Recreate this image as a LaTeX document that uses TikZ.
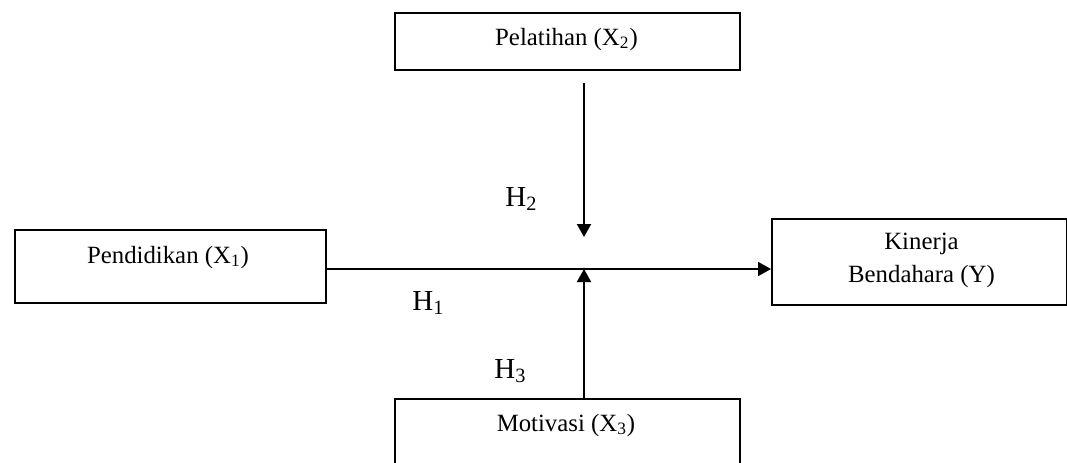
\documentclass[tikz,border=0pt]{standalone}
\usepackage{fontspec}
\setmainfont{Liberation Serif}
\usetikzlibrary{arrows.meta}
\begin{document}
\begin{tikzpicture}[x=0.5pt,y=-0.5pt,
  box/.style={draw,line width=1pt,inner sep=0pt,anchor=north west},
  lbl/.style={font=\fontsize{12.4}{15}\selectfont,inner sep=0pt,anchor=base},
  hlbl/.style={font=\fontsize{14.5}{17}\selectfont,inner sep=0pt,anchor=base west},
  arr/.style={line width=1pt,-{Triangle[length=6.5pt,width=7pt]}}]
\useasboundingbox (0,0) rectangle (1067,462);
\clip (0,0) rectangle (1067,462);
% boxes
\node[box,minimum width=172.5pt,minimum height=28.5pt] (x2) at (394,12) {};
\node[box,minimum width=155.5pt,minimum height=36.5pt] (x1) at (14,229) {};
\node[box,minimum width=147.5pt,minimum height=43pt] (y) at (771,218) {};
\node[box,minimum width=172.5pt,minimum height=60pt] (x3) at (394,398) {};
% texts
\node[lbl] (x2t) at (566.5,45) {Pelatihan (X\textsubscript{2})};
\node[lbl] (x1t) at (168,263) {Pendidikan (X\textsubscript{1})};
\node[lbl] (yt1) at (921.5,249) {Kinerja};
\node[lbl] (yt2) at (921.5,282) {Bendahara (Y)};
\node[lbl] (x3t) at (566,431) {Motivasi (X\textsubscript{3})};
% hypothesis labels
\node[hlbl] (h2) at (505,206) {H\textsubscript{2}};
\node[hlbl] (h1) at (412,310) {H\textsubscript{1}};
\node[hlbl] (h3) at (494,378) {H\textsubscript{3}};
% connectors
\coordinate (m2) at (584,237);
\coordinate (m3) at (584,269);
\draw[arr] (x1.east |- m3) -- (y.west |- m3);
\draw[arr] (m2 |- x2.south) ++(0,12) -- (m2);
\draw[arr] (m3 |- x3.north) -- (m3);
\end{tikzpicture}
\end{document}
